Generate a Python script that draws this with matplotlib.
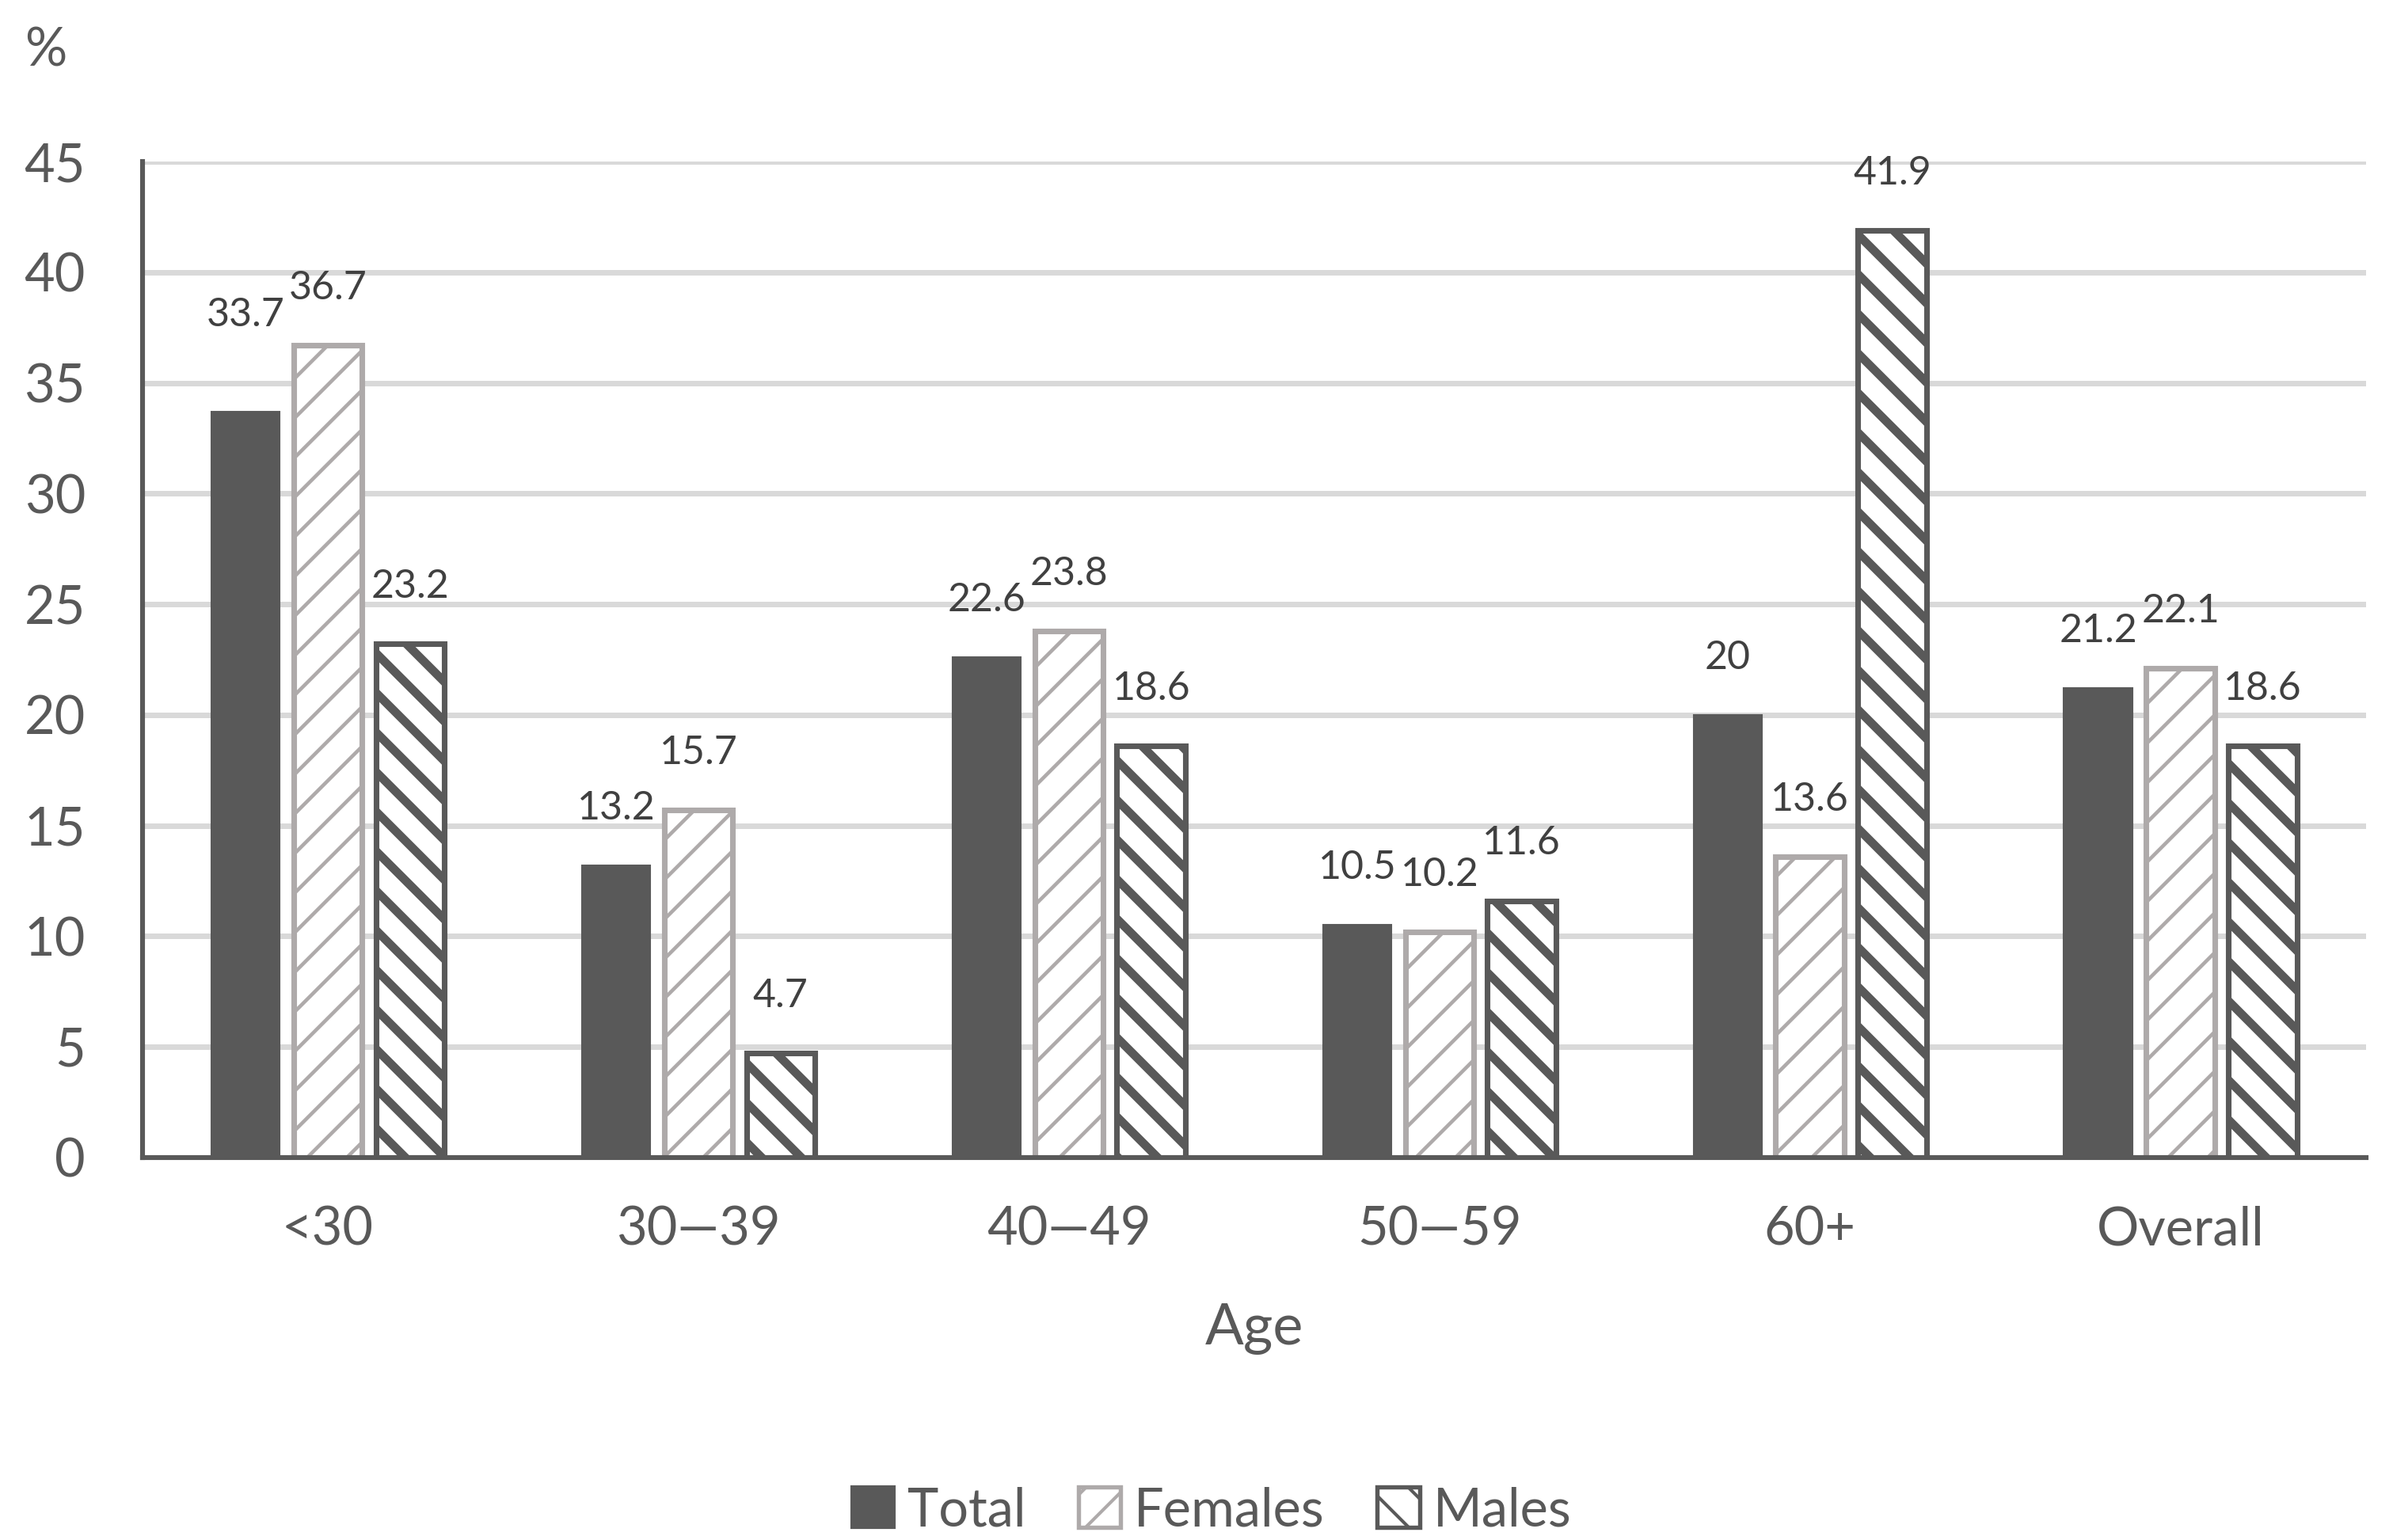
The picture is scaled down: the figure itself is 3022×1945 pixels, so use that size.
import matplotlib
matplotlib.use("Agg")
import matplotlib.pyplot as plt
import numpy as np
from matplotlib.patches import Patch

categories = ["<30", "30\u201439", "40\u201449", "50\u201459", "60+", "Overall"]
total = [33.7, 13.2, 22.6, 10.5, 20.0, 21.2]
females = [36.7, 15.7, 23.8, 10.2, 13.6, 22.1]
males = [23.2, 4.7, 18.6, 11.6, 41.9, 18.6]
total_labels = ["33.7", "13.2", "22.6", "10.5", "20", "21.2"]
female_labels = ["36.7", "15.7", "23.8", "10.2", "13.6", "22.1"]
male_labels = ["23.2", "4.7", "18.6", "11.6", "41.9", "18.6"]

plt.rcParams['font.family'] = ['Lato', 'DejaVu Sans']
DARK = "#595959"
LIGHT = "#aeaaaa"
TXT = "#404040"

DPI = 300
fig = plt.figure(figsize=(3022 / DPI, 1945 / DPI), dpi=DPI)
ax = fig.add_axes([0.0596, 0.2485, 0.9290, 0.6465])

x = np.arange(len(categories))
step = 0.222
w = 0.185

b1 = ax.bar(x - step, total, w, color=DARK, edgecolor=DARK, linewidth=0.5, zorder=3)
b2 = ax.bar(x, females, w, color="white", edgecolor=LIGHT, linewidth=1.7, hatch="//", zorder=3)
b3 = ax.bar(x + step, males, w, color="white", edgecolor=DARK, linewidth=1.7, hatch="\\\\", zorder=3)
for p in b2:
    try:
        p.set_hatch_linewidth(1.1)
    except Exception:
        pass
for p in b3:
    try:
        p.set_hatch_linewidth(2.6)
    except Exception:
        pass

# label nudges (points) for collision-avoidance like original
nudge_total = [12, 0, 0, 0, 0, 0]

for i, (bars, labs) in enumerate([(b1, total_labels), (b2, female_labels), (b3, male_labels)]):
    for j, (b, lab) in enumerate(zip(bars, labs)):
        extra = nudge_total[j] if i == 0 else 0
        ax.annotate(lab, (b.get_x() + b.get_width() / 2, b.get_height()),
                    xytext=(0, 17.3 + extra), textcoords="offset points",
                    ha="center", va="center", fontsize=12, color=TXT)

ax.set_ylim(0, 45)
ax.set_xlim(-0.5, len(categories) - 0.5)
ax.set_yticks(np.arange(0, 46, 5))
ax.set_xticks(x)
ax.set_xticklabels(categories)
ax.tick_params(axis="both", length=0, labelsize=16, labelcolor=DARK)
ax.tick_params(axis="y", pad=17.3)
ax.tick_params(axis="x", pad=14.7)
ax.grid(axis="y", color="#d9d9d9", linewidth=1.67, zorder=0)
ax.set_axisbelow(True)
for s in ["top", "right"]:
    ax.spines[s].set_visible(False)
for s in ["left", "bottom"]:
    ax.spines[s].set_color(DARK)
    ax.spines[s].set_linewidth(1.47)
    ax.spines[s].set_zorder(4)

ax.set_xlabel("Age", fontsize=17.3, color=DARK, labelpad=14.7)
fig.text(58 / 3022, 1 - 64 / 1945, "%", fontsize=16, color=DARK, ha="center", va="center")

handles = [Patch(facecolor=DARK, edgecolor=DARK, label="Total"),
           Patch(facecolor="white", edgecolor=LIGHT, hatch="//", linewidth=1.3, label="Females"),
           Patch(facecolor="white", edgecolor=DARK, hatch="\\\\", linewidth=1.3, label="Males")]
leg = fig.legend(handles=handles, loc="center", bbox_to_anchor=(1530 / 3022, 1 - 1908 / 1945),
                 ncol=3, frameon=False, fontsize=16, handlelength=0.8, handleheight=0.8,
                 handletextpad=0.25, columnspacing=1.0)
for t in leg.get_texts():
    t.set_color(DARK)

fig.savefig("out.png", dpi=DPI)
